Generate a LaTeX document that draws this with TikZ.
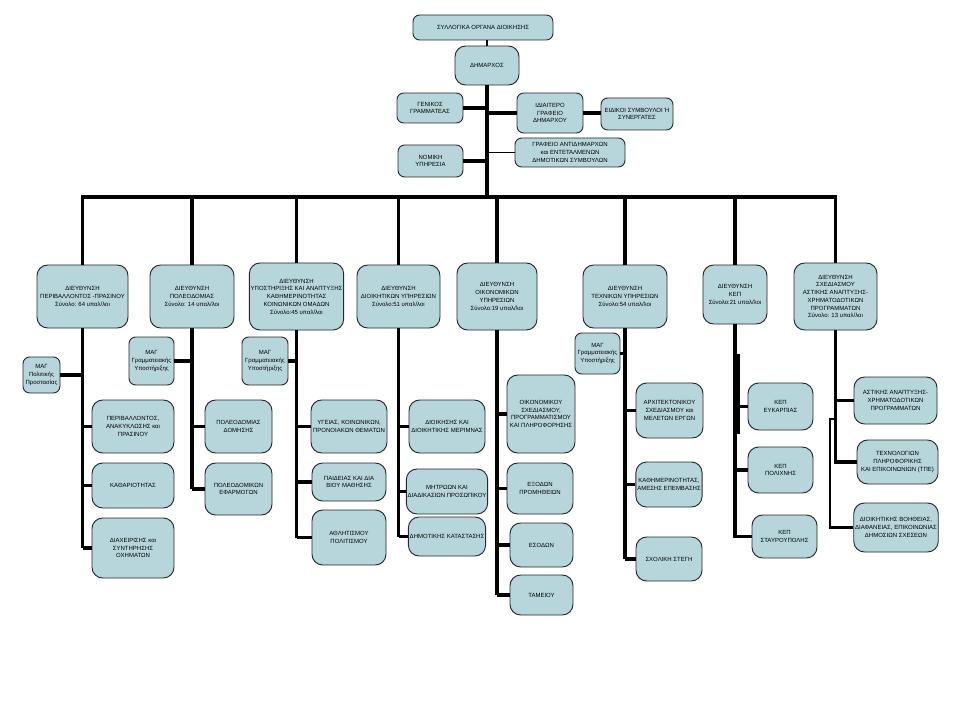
\documentclass[tikz,border=0pt]{standalone}
\usepackage{fontspec}
\setmainfont{Liberation Sans}
\newcommand\boxfont{\fontsize{4.5}{5.8}\selectfont}
\definecolor{boxfill}{RGB}{182,214,220}
\definecolor{boxline}{RGB}{40,40,40}
\tikzset{
  box/.style={draw=boxline, line width=0.7pt, fill=boxfill, rounded corners=5pt, align=center, font=\boxfont, inner sep=1pt},
  dirbox/.style={box, rounded corners=8pt},
  conn/.style={line width=2.6pt},
  busconn/.style={line width=2.3pt},
  midconn/.style={line width=1.6pt},
  thinconn/.style={line width=0.9pt}
}
\newcommand\bx[7][box]{\node[#1, minimum width={(#5-#3)*0.75pt}, minimum height={(#6-#4)*0.75pt}] (#2) at ({(#3+#5)/2},{(#4+#6)/2}) {#7};}
\begin{document}
\begin{tikzpicture}[x=0.75pt,y=-0.75pt]
\useasboundingbox[fill=white] (0,0) rectangle (960,720);
% top level
\bx{top}{413}{15}{553}{40}{ΣΥΛΛΟΓΙΚΑ ΟΡΓΑΝΑ ΔΙΟΙΚΗΣΗΣ}
\bx[dirbox]{mayor}{455}{46}{519}{85}{ΔΗΜΑΡΧΟΣ}
\bx{gen}{397}{93}{463}{123}{ΓΕΝΙΚΟΣ\\ΓΡΑΜΜΑΤΕΑΣ}
\bx{idi}{517}{93}{583}{133}{ΙΔΙΑΙΤΕΡΟ\\ΓΡΑΦΕΙΟ\\ΔΗΜΑΡΧΟΥ}
\bx{eid}{601}{98}{673}{130}{ΕΙΔΙΚΟΙ ΣΥΜΒΟΥΛΟΙ Ή\\ΣΥΝΕΡΓΑΤΕΣ}
\bx{graf}{515}{138}{625}{167}{ΓΡΑΦΕΙΟ ΑΝΤΙΔΗΜΑΡΧΩΝ\\και ΕΝΤΕΤΑΛΜΕΝΩΝ\\ΔΗΜΟΤΙΚΩΝ ΣΥΜΒΟΥΛΩΝ}
\bx{nom}{398}{145}{463}{177}{ΝΟΜΙΚΗ\\ΥΠΗΡΕΣΙΑ}
% directorates
\bx[dirbox]{d1}{37}{265}{128}{328}{ΔΙΕΥΘΥΝΣΗ\\ΠΕΡΙΒΑΛΛΟΝΤΟΣ -ΠΡΑΣΙΝΟΥ\\Σύνολο: 64 υπαλ/λοι}
\bx[dirbox]{d2}{150}{265}{234}{328}{ΔΙΕΥΘΥΝΣΗ\\ΠΟΛΕΟΔΟΜΙΑΣ\\Σύνολο: 14 υπαλ/λοι}
\bx[dirbox]{d3}{251}{263}{342}{330}{ΔΙΕΥΘΥΝΣΗ\\ΥΠΟΣΤΗΡΙΞΗΣ ΚΑΙ ΑΝΑΠΤΥΞΗΣ\\ΚΑΘΗΜΕΡΙΝΟΤΗΤΑΣ\\ΚΟΙΝΩΝΙΚΩΝ ΟΜΑΔΩΝ\\Σύνολο:45 υπαλ/λοι}
\bx[dirbox]{d4}{357}{265}{440}{328}{ΔΙΕΥΘΥΝΣΗ\\ΔΙΟΙΚΗΤΙΚΩΝ ΥΠΗΡΕΣΙΩΝ\\Σύνολο:51 υπαλ/λοι}
\bx[dirbox]{d5}{457}{263}{537}{330}{ΔΙΕΥΘΥΝΣΗ\\ΟΙΚΟΝΟΜΙΚΩΝ\\ΥΠΗΡΕΣΙΩΝ\\Σύνολο:19 υπαλ/λοι}
\bx[dirbox]{d6}{583}{265}{667}{328}{ΔΙΕΥΘΥΝΣΗ\\ΤΕΧΝΙΚΩΝ ΥΠΗΡΕΣΙΩΝ\\Σύνολο:54 υπαλ/λοι}
\bx[dirbox]{d7}{703}{265}{767}{324}{ΔΙΕΥΘΥΝΣΗ\\ΚΕΠ\\Σύνολο:21 υπαλ/λοι}
\bx[dirbox]{d8}{794}{263}{877}{330}{ΔΙΕΥΘΥΝΣΗ\\ΣΧΕΔΙΑΣΜΟΥ\\ΑΣΤΙΚΗΣ ΑΝΑΠΤΥΞΗΣ-\\ΧΡΗΜΑΤΟΔΟΤΙΚΩΝ\\ΠΡΟΓΡΑΜΜΑΤΩΝ\\Σύνολο: 13 υπαλ/λοι}
% sub units
\bx{m1}{23}{357}{60}{393}{ΜΑΓ\\Πολιτικής\\Προστασίας}
\bx[dirbox]{s11}{92}{400}{174}{453}{ΠΕΡΙΒΑΛΛΟΝΤΟΣ,\\ΑΝΑΚΥΚΛΩΣΗΣ και\\ΠΡΑΣΙΝΟΥ}
\bx[dirbox]{s12}{92}{463}{174}{508}{ΚΑΘΑΡΙΟΤΗΤΑΣ}
\bx[dirbox]{s13}{92}{518}{174}{578}{ΔΙΑΧΕΙΡΙΣΗΣ και\\ΣΥΝΤΗΡΗΣΗΣ\\ΟΧΗΜΑΤΩΝ}
\bx{m2}{129}{337}{174}{385}{ΜΑΓ\\Γραμματειακής\\Υποστήριξης}
\bx[dirbox]{s21}{205}{400}{272}{453}{ΠΟΛΕΟΔΟΜΙΑΣ\\ΔΟΜΗΣΗΣ}
\bx[dirbox]{s22}{205}{463}{272}{515}{ΠΟΛΕΟΔΟΜΙΚΩΝ\\ΕΦΑΡΜΟΓΩΝ}
\bx{m3}{242}{337}{288}{385}{ΜΑΓ\\Γραμματειακής\\Υποστήριξης}
\bx[dirbox]{s31}{311}{400}{387}{453}{ΥΓΕΙΑΣ, ΚΟΙΝΩΝΙΚΩΝ,\\ΠΡΟΝΟΙΑΚΩΝ ΘΕΜΑΤΩΝ}
\bx[dirbox]{s32}{312}{463}{386}{501}{ΠΑΙΔΕΙΑΣ ΚΑΙ ΔΙΑ\\ΒΙΟΥ ΜΑΘΗΣΗΣ}
\bx[dirbox]{s33}{312}{510}{386}{565}{ΑΘΛΗΤΙΣΜΟΥ\\ΠΟΛΙΤΙΣΜΟΥ}
\bx[dirbox]{s41}{409}{400}{485}{453}{ΔΙΟΙΚΗΣΗΣ ΚΑΙ\\ΔΙΟΙΚΗΤΙΚΗΣ ΜΕΡΙΜΝΑΣ}
\bx[dirbox]{s42}{409}{469}{485}{514}{ΜΗΤΡΩΩΝ ΚΑΙ\\ΔΙΑΔΙΚΑΣΙΩΝ ΠΡΟΣΩΠΙΚΟΥ}
\bx[dirbox]{s43}{409}{517}{485}{556}{ΔΗΜΟΤΙΚΗΣ ΚΑΤΑΣΤΑΣΗΣ}
\bx[dirbox]{s51}{507}{375}{575}{453}{ΟΙΚΟΝΟΜΙΚΟΥ\\ΣΧΕΔΙΑΣΜΟΥ,\\ΠΡΟΓΡΑΜΜΑΤΙΣΜΟΥ\\ΚΑΙ ΠΛΗΡΟΦΟΡΗΣΗΣ}
\bx[dirbox]{s52}{507}{463}{573}{514}{ΕΞΟΔΩΝ\\ΠΡΟΜΗΘΕΙΩΝ}
\bx[dirbox]{s53}{510}{523}{573}{567}{ΕΣΟΔΩΝ}
\bx[dirbox]{s54}{510}{575}{573}{615}{ΤΑΜΕΙΟΥ}
\bx{m6}{575}{333}{620}{374}{ΜΑΓ\\Γραμματειακής\\Υποστήριξης}
\bx[dirbox]{s61}{636}{383}{703}{438}{ΑΡΧΙΤΕΚΤΟΝΙΚΟΥ\\ΣΧΕΔΙΑΣΜΟΥ και\\ΜΕΛΕΤΩΝ ΕΡΓΩΝ}
\bx[dirbox]{s62}{636}{462}{702}{507}{ΚΑΘΗΜΕΡΙΝΟΤΗΤΑΣ,\\ΑΜΕΣΗΣ ΕΠΕΜΒΑΣΗΣ}
\bx[dirbox]{s63}{636}{537}{702}{581}{ΣΧΟΛΙΚΗ ΣΤΕΓΗ}
\bx[dirbox]{k1}{748}{383}{813}{430}{ΚΕΠ\\ΕΥΚΑΡΠΙΑΣ}
\bx[dirbox]{k2}{748}{447}{813}{493}{ΚΕΠ\\ΠΟΛΙΧΝΗΣ}
\bx[dirbox]{k3}{752}{515}{817}{558}{ΚΕΠ\\ΣΤΑΥΡΟΥΠΟΛΗΣ}
\bx[dirbox]{t1}{854}{377}{937}{424}{ΑΣΤΙΚΗΣ ΑΝΑΠΤΥΞΗΣ-\\ΧΡΗΜΑΤΟΔΟΤΙΚΩΝ\\ΠΡΟΓΡΑΜΜΑΤΩΝ}
\bx[dirbox]{t2}{857}{440}{938}{484}{ΤΕΧΝΟΛΟΓΙΩΝ\\ΠΛΗΡΟΦΟΡΙΚΗΣ\\ΚΑΙ ΕΠΙΚΟΙΝΩΝΙΩΝ (ΤΠΕ)}
\bx[dirbox]{t3}{855}{503}{937}{552}{ΔΙΟΙΚΗΤΙΚΗΣ ΒΟΗΘΕΙΑΣ,\\ΔΙΑΦΑΝΕΙΑΣ, ΕΠΙΚΟΙΝΩΝΙΑΣ\\ΔΗΜΟΣΙΩΝ ΣΧΕΣΕΩΝ}
% coordinates
\coordinate (bus) at (0,197);
\coordinate (b8) at (830,419);
% top connectors
\draw[thinconn] (mayor.north |- top.south) -- (mayor.north);
\draw[conn] (mayor.south) -- (mayor.south |- bus);
\draw[conn] (gen.east) -- (gen.east -| mayor.south);
\draw[conn] (idi.west) -- (idi.west -| mayor.south);
\draw[conn] (idi.east) -- (idi.east -| eid.west);
\draw[thinconn] (graf.west) -- (graf.west -| mayor.south);
\draw[conn] (nom.east) -- (nom.east -| mayor.south);
% bus
\draw[busconn] (d1.north) -- (d1.north |- bus) -- (d8.north |- bus) -- (d8.north);
\foreach \d in {d2,d3,d4,d5,d6,d7}
  \draw[busconn] (\d.north) -- (\d.north |- bus);
% directorate 1
\draw[conn] (d1.south) -- (s13.west -| d1.south);
\foreach \s in {s11,s12,s13} \draw[conn] (\s.west) -- (\s.west -| d1.south);
\draw[conn] (m1.east) -- (m1.east -| d1.south);
% directorate 2
\draw[conn] (d2.south) -- (s22.west -| d2.south);
\foreach \s in {s21,s22} \draw[conn] (\s.west) -- (\s.west -| d2.south);
\draw[conn] (m2.east) -- (m2.east -| d2.south);
% directorate 3
\draw[conn] (d3.south) -- (s33.west -| d3.south);
\foreach \s in {s31,s32,s33} \draw[conn] (\s.west) -- (\s.west -| d3.south);
\draw[conn] (m3.east) -- (m3.east -| d3.south);
% directorate 4
\draw[conn] (d4.south) -- (s43.west -| d4.south);
\foreach \s in {s41,s42,s43} \draw[conn] (\s.west) -- (\s.west -| d4.south);
% directorate 5
\draw[conn] (d5.south) -- (s54.west -| d5.south);
\foreach \s in {s51,s52,s53,s54} \draw[conn] (\s.west) -- (\s.west -| d5.south);
% directorate 6
\draw[conn] (d6.south) -- (s63.west -| d6.south);
\foreach \s in {s61,s62,s63} \draw[conn] (\s.west) -- (\s.west -| d6.south);
\draw[conn] (m6.east) -- (m6.east -| d6.south);
% directorate 7
\draw[conn] (d7.south) -- (k3.west -| d7.south) -- (k3.west);
\draw[conn] ([xshift=2.2pt,yshift=-22pt]d7.south) -- ++(0,80);
\foreach \s in {k1,k2} \draw[conn] (\s.west) -- (\s.west -| d7.south);
% directorate 8
\draw[conn] (d8.south) -- (t2.west -| d8.south) -- (t2.west);
\draw[conn] (t1.west) -- (t1.west -| d8.south);
\draw[midconn] (b8 -| d8.south) -- (b8) -- (b8 |- t3.west) -- (t3.west);
\end{tikzpicture}
\end{document}
